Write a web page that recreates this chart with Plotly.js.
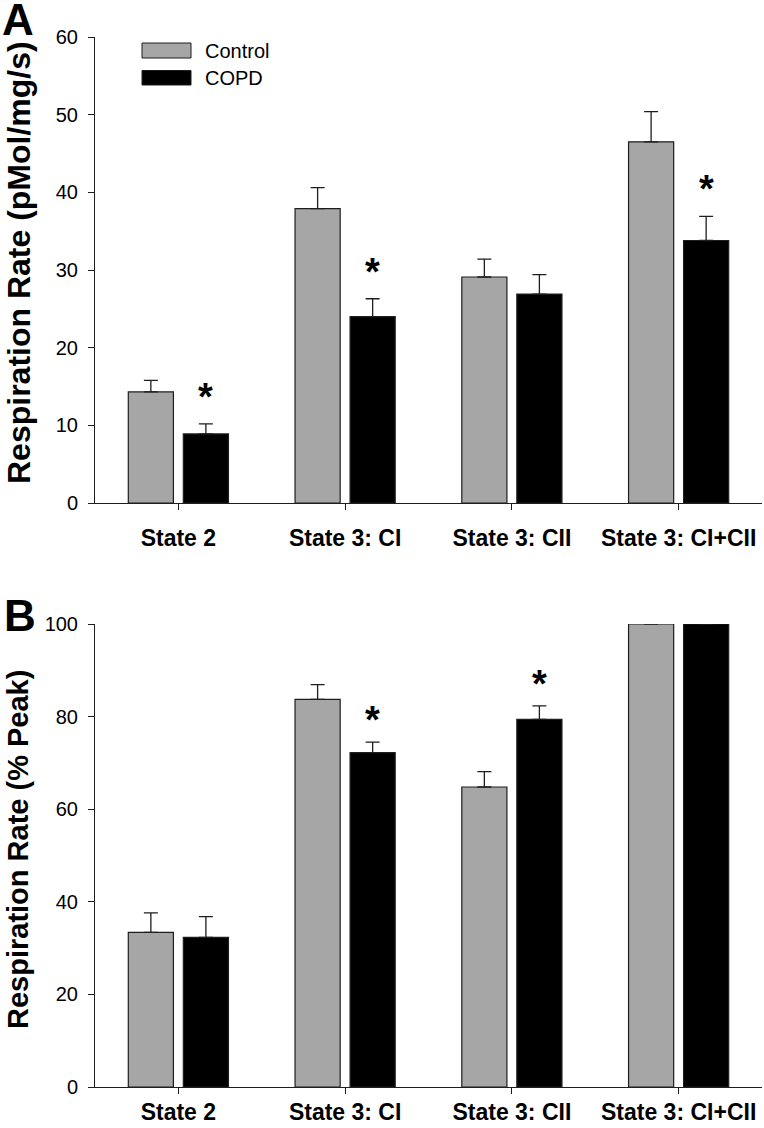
<!DOCTYPE html>
<html>
<head>
<meta charset="utf-8">
<script src="https://cdn.plot.ly/plotly-3.0.1.min.js"></script>
<style>html,body{margin:0;padding:0;background:#fff;}</style>
</head>
<body>
<div id="chart" style="width:764px;height:1128px;"></div>
<script>
// ---- data ----
const categories = ["State 2", "State 3: CI", "State 3: CII", "State 3: CI+CII"];
const seriesNames = ["Control", "COPD"];

// Panel A: Respiration Rate (pMol/mg/s)
const controlA = [14.3, 37.9, 29.1, 46.5];
const controlAErr = [1.5, 2.7, 2.3, 3.9];
const copdA = [8.9, 24.0, 26.9, 33.8];
const copdAErr = [1.3, 2.3, 2.5, 3.1];
const sigA = [true, true, false, true];

// Panel B: Respiration Rate (% Peak)
const controlB = [33.4, 83.7, 64.8, 100];
const controlBErr = [4.2, 3.2, 3.3, 0];
const copdB = [32.3, 72.2, 79.4, 100];
const copdBErr = [4.5, 2.3, 2.9, 0];
const sigB = [false, true, true, false];

const titleA = "Respiration Rate (pMol/mg/s)";
const titleB = "Respiration Rate (% Peak)";

// ---- styling ----
const FONT = "Arial, 'Liberation Sans', Helvetica, sans-serif";
const GRAY = "#a6a6a6";
const BLACK = "#000000";
const EDGE = "#1e1e1e";

// pixel helpers for decoration placement (plot area: x 95..762, y 37..1087)
const L = 95, R = 2, T = 37, B = 41, W = 764, H = 1128;
const pw = W - L - R, ph = H - T - B;
const px = v => (v - L) / pw;
const py = v => (H - B - v) / ph;

function barTrace(name, x, y, err, color, xa, ya) {
  return {
    type: "bar", name: name, x: x, y: y, xaxis: xa, yaxis: ya,
    marker: {color: color, line: {color: EDGE, width: 1.2}},
    error_y: {type: "data", symmetric: false, array: err,
              arrayminus: err.map(() => 0), color: EDGE, thickness: 1.3, width: 7},
    showlegend: false, hoverinfo: "skip"
  };
}

const data = [
  barTrace(seriesNames[0], categories, controlA, controlAErr, GRAY, "x", "y"),
  barTrace(seriesNames[1], categories, copdA, copdAErr, BLACK, "x", "y"),
  barTrace(seriesNames[0], categories, controlB, controlBErr, GRAY, "x2", "y2"),
  barTrace(seriesNames[1], categories, copdB, copdBErr, BLACK, "x2", "y2")
];

const xCommon = {
  type: "category", range: [-0.5, 3.5], showline: true, linecolor: EDGE, linewidth: 1,
  ticks: "outside", ticklen: 6, tickcolor: EDGE, tickwidth: 1, showgrid: false, zeroline: false,
  tickfont: {family: FONT, size: 23, color: "#000", weight: "bold"},
  fixedrange: true
};
const yCommon = {
  showline: true, linecolor: EDGE, linewidth: 1, ticks: "outside", ticklen: 6, tickcolor: EDGE,
  tickwidth: 1, showgrid: false, zeroline: false,
  tickfont: {family: FONT, size: 20, color: "#000"}, ticklabelstandoff: 6, fixedrange: true
};

const annotations = [];
function addStars(sig, vals, errs, xa, ya, shift) {
  sig.forEach((s, i) => {
    if (!s) return;
    annotations.push({
      xref: xa, yref: ya, x: categories[i], y: vals[i] + errs[i], xshift: 27.5, yshift: shift,
      text: "*", showarrow: false, yanchor: "middle", xanchor: "center",
      font: {family: FONT, size: 38, color: "#000", weight: "bold"}
    });
  });
}
addStars(sigA, copdA, copdAErr, "x", "y", 27);
addStars(sigB, copdB, copdBErr, "x2", "y2", 22);

// legend (drawn as decoration)
const shapes = [
  {type: "rect", xref: "paper", yref: "paper", x0: px(142), x1: px(191), y0: py(58), y1: py(43),
   fillcolor: GRAY, line: {color: EDGE, width: 1}},
  {type: "rect", xref: "paper", yref: "paper", x0: px(142), x1: px(191), y0: py(85), y1: py(70.5),
   fillcolor: BLACK, line: {color: EDGE, width: 1}}
];
annotations.push(
  {xref: "paper", yref: "paper", x: px(203), y: py(50.5), xanchor: "left", yanchor: "middle",
   text: seriesNames[0], showarrow: false, font: {family: FONT, size: 20, color: "#000"}},
  {xref: "paper", yref: "paper", x: px(203), y: py(77.5), xanchor: "left", yanchor: "middle",
   text: seriesNames[1], showarrow: false, font: {family: FONT, size: 20, color: "#000"}},
  {xref: "paper", yref: "paper", x: px(0), y: py(19), xanchor: "left", yanchor: "middle",
   text: "A", showarrow: false, font: {family: FONT, size: 44, color: "#000", weight: "bold"}},
  {xref: "paper", yref: "paper", x: px(2), y: py(615), xanchor: "left", yanchor: "middle",
   text: "B", showarrow: false, font: {family: FONT, size: 44, color: "#000", weight: "bold"}},
  // y-axis titles
  {xref: "paper", yref: "paper", x: px(19), y: py(263), xanchor: "center", yanchor: "middle",
   textangle: -90, text: titleA, showarrow: false,
   font: {family: FONT, size: 32, color: "#000", weight: "bold"}},
  {xref: "paper", yref: "paper", x: px(18), y: py(850), xanchor: "center", yanchor: "middle",
   textangle: -90, text: titleB, showarrow: false,
   font: {family: FONT, size: 29, color: "#000", weight: "bold"}}
);

const layout = {
  width: W, height: H,
  margin: {l: L, r: R, t: T, b: B},
  paper_bgcolor: "#fff", plot_bgcolor: "#fff",
  barmode: "group", bargap: 0.34, bargroupgap: 0.18,
  showlegend: false,
  font: {family: FONT, color: "#000"},
  xaxis: Object.assign({}, xCommon, {anchor: "y", domain: [0, 1], ticklabelstandoff: 8}),
  yaxis: Object.assign({}, yCommon, {anchor: "x", domain: [py(503), 1], range: [0, 60], dtick: 10}),
  xaxis2: Object.assign({}, xCommon, {anchor: "y2", domain: [0, 1], ticklabelstandoff: -2}),
  yaxis2: Object.assign({}, yCommon, {anchor: "x2", domain: [0, py(624)], range: [0, 100], dtick: 20}),
  annotations: annotations,
  shapes: shapes
};

Plotly.newPlot("chart", data, layout, {displayModeBar: false, staticPlot: true});
</script>
</body>
</html>
